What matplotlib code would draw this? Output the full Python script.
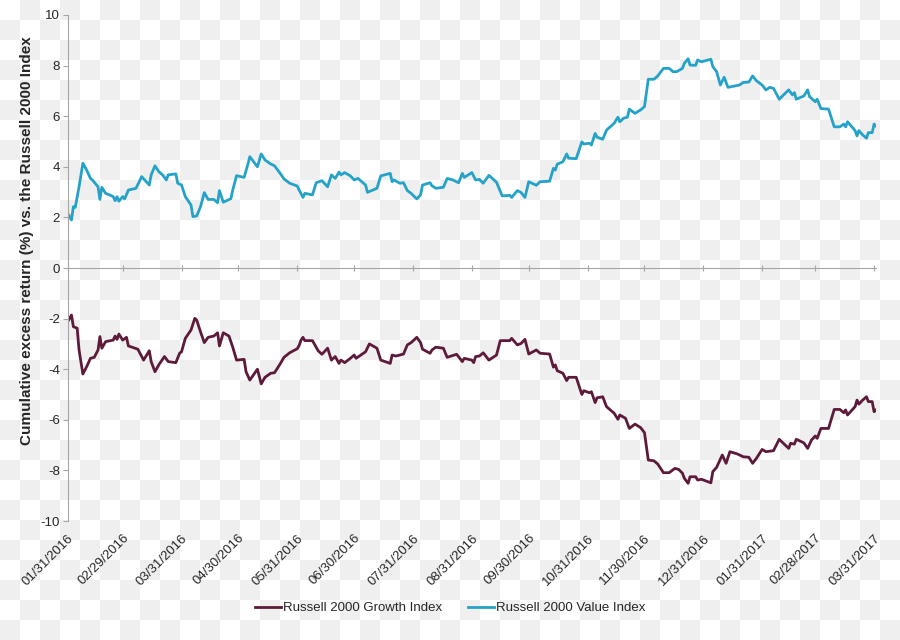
import numpy as np
import pandas as pd
import matplotlib
matplotlib.use("Agg")
import matplotlib.pyplot as plt
import matplotlib.dates as mdates

plt.rcParams['font.family'] = ['Liberation Sans', 'DejaVu Sans']
plt.rcParams['axes.unicode_minus'] = False

# jours depuis le 31/01/2016 et rendement excedentaire cumule (%)
start = "2016-01-31"

val_days = [0, 2, 3, 4, 6, 8, 10, 12, 13, 16,
            17, 18, 20, 22, 24, 25, 26, 27, 29, 30,
            32, 36, 39, 43, 44, 46, 48, 50, 52, 53,
            57, 58, 60, 62, 65, 66, 68, 70, 72, 74,
            77, 79, 80, 82, 86, 87, 89, 93, 95, 96,
            100, 102, 104, 107, 109, 112, 114, 117, 121, 122,
            124, 125, 129, 131, 134, 137, 139, 141, 143, 144,
            146, 149, 151, 153, 157, 158, 163, 165, 170, 171,
            172, 175, 177, 179, 181, 184, 186, 187, 191, 192,
            194, 198, 200, 203, 206, 208, 209, 213, 215, 217,
            219, 222, 226, 229, 233, 234, 237, 239, 241, 243,
            247, 249, 254, 256, 257, 258, 261, 263, 264, 268,
            271, 272, 275, 276, 278, 279, 282, 284, 288, 290,
            291, 293, 295, 296, 299, 302, 304, 306, 309, 311,
            314, 317, 319, 321, 324, 325, 327, 328, 331, 332,
            334, 339, 340, 342, 344, 346, 348, 354, 356, 359,
            361, 363, 366, 368, 370, 372, 375, 380, 382, 383,
            384, 388, 390, 391, 394, 395, 397, 401, 404, 407,
            409, 410, 411, 415, 416, 417, 419, 421, 422, 424,
            425, 426]
val_pct = [2.16, 1.90, 2.42, 2.40, 3.21, 4.14, 3.87, 3.54, 3.48, 3.21,
           2.71, 3.19, 2.95, 2.89, 2.82, 2.66, 2.82, 2.64, 2.82, 2.73,
           3.08, 3.15, 3.61, 3.28, 3.68, 4.04, 3.81, 3.68, 3.48, 3.68,
           3.72, 3.35, 3.28, 2.82, 2.49, 2.03, 2.06, 2.42, 2.98, 2.71,
           2.71, 2.58, 3.06, 2.60, 2.74, 3.08, 3.65, 3.58, 4.11, 4.40,
           4.00, 4.51, 4.27, 4.11, 4.04, 3.74, 3.52, 3.35, 3.24, 3.08,
           2.79, 2.95, 2.89, 3.37, 3.45, 3.21, 3.68, 3.54, 3.79, 3.68,
           3.77, 3.64, 3.48, 3.54, 3.28, 2.99, 3.15, 3.64, 3.74, 3.41,
           3.48, 3.35, 3.37, 3.06, 2.95, 2.73, 2.89, 3.28, 3.37, 3.25,
           3.15, 3.19, 3.54, 3.48, 3.37, 3.74, 3.58, 3.77, 3.48, 3.50,
           3.35, 3.66, 3.39, 2.85, 2.87, 2.79, 3.06, 2.98, 2.79, 3.41,
           3.27, 3.41, 3.43, 3.94, 3.87, 4.10, 4.20, 4.51, 4.34, 4.32,
           4.99, 4.90, 4.93, 4.86, 5.32, 5.17, 5.09, 5.45, 5.72, 5.96,
           5.78, 5.92, 5.96, 6.28, 6.11, 6.25, 6.38, 7.46, 7.46, 7.59,
           7.89, 7.89, 7.76, 7.76, 7.89, 8.09, 8.27, 8.02, 8.01, 8.22,
           8.15, 8.25, 7.96, 7.76, 7.23, 7.54, 7.14, 7.23, 7.33, 7.35,
           7.59, 7.40, 7.23, 7.04, 7.14, 7.10, 6.67, 7.04, 6.84, 6.93,
           6.67, 6.80, 7.04, 6.77, 6.57, 6.67, 6.30, 6.28, 5.58, 5.58,
           5.69, 5.58, 5.78, 5.43, 5.22, 5.43, 5.26, 5.13, 5.35, 5.35,
           5.69, 5.61]

gro_days = [0, 2, 3, 5, 6, 8, 10, 12, 14, 16,
            17, 18, 20, 24, 25, 26, 27, 29, 31, 32,
            37, 40, 43, 44, 46, 48, 51, 53, 57, 59,
            60, 62, 65, 67, 68, 70, 72, 74, 77, 79,
            80, 82, 85, 87, 89, 93, 94, 96, 100, 102,
            104, 107, 109, 112, 114, 117, 121, 122, 123, 124,
            125, 129, 132, 134, 137, 139, 141, 143, 144, 146,
            149, 151, 152, 157, 159, 163, 165, 170, 171, 173,
            177, 179, 181, 184, 186, 187, 191, 192, 194, 198,
            200, 205, 208, 209, 213, 214, 215, 217, 219, 222,
            226, 228, 233, 234, 237, 239, 241, 243, 247, 249,
            254, 256, 257, 258, 261, 263, 264, 268, 271, 272,
            275, 276, 278, 279, 282, 284, 288, 290, 291, 294,
            296, 299, 302, 304, 306, 309, 311, 314, 317, 320,
            322, 324, 325, 327, 328, 331, 332, 334, 339, 340,
            342, 345, 347, 349, 353, 356, 359, 361, 363, 366,
            368, 372, 375, 380, 381, 383, 384, 388, 390, 392,
            394, 395, 397, 401, 404, 407, 409, 410, 411, 415,
            416, 417, 419, 421, 422, 424, 425, 426]
gro_pct = [-2.12, -1.86, -2.32, -2.38, -3.24, -4.19, -3.90, -3.57, -3.53, -3.24,
           -2.71, -3.17, -2.91, -2.85, -2.69, -2.82, -2.61, -2.85, -2.74, -3.08,
           -3.21, -3.64, -3.27, -3.70, -4.10, -3.83, -3.50, -3.70, -3.74, -3.37,
           -3.31, -2.78, -2.45, -1.99, -2.06, -2.52, -2.95, -2.74, -2.69, -2.56,
           -3.08, -2.56, -2.69, -3.13, -3.64, -3.61, -4.10, -4.43, -4.00, -4.58,
           -4.32, -4.16, -4.14, -3.79, -3.53, -3.35, -3.19, -3.06, -2.85, -2.74,
           -2.87, -2.87, -3.27, -3.41, -3.17, -3.64, -3.50, -3.77, -3.64, -3.74,
           -3.57, -3.44, -3.57, -3.31, -3.00, -3.17, -3.64, -3.77, -3.44, -3.48,
           -3.40, -3.04, -2.95, -2.74, -2.95, -3.21, -3.37, -3.24, -3.13, -3.17,
           -3.53, -3.41, -3.70, -3.57, -3.64, -3.74, -3.50, -3.48, -3.35, -3.64,
           -3.44, -2.87, -2.87, -2.78, -3.04, -2.98, -2.82, -3.40, -3.24, -3.37,
           -3.40, -3.92, -3.83, -4.06, -4.16, -4.45, -4.32, -4.32, -5.00, -4.85,
           -4.93, -4.89, -5.32, -5.13, -5.09, -5.48, -5.74, -5.98, -5.81, -5.94,
           -6.34, -6.17, -6.31, -6.51, -7.59, -7.62, -7.75, -8.09, -8.09, -7.92,
           -7.96, -8.11, -8.31, -8.51, -8.25, -8.25, -8.38, -8.35, -8.49, -8.05,
           -7.88, -7.39, -7.72, -7.26, -7.35, -7.46, -7.48, -7.72, -7.52, -7.17,
           -7.26, -7.22, -6.77, -7.13, -6.93, -6.96, -6.77, -6.91, -7.13, -6.80,
           -6.64, -6.73, -6.34, -6.34, -5.59, -5.59, -5.72, -5.61, -5.81, -5.48,
           -5.22, -5.38, -5.22, -5.09, -5.28, -5.28, -5.68, -5.61]

noms = ["Russell 2000 Growth Index", "Russell 2000 Value Index"]
couleurs = ["#5e1a3a", "#25a2c8"]
gris = "#a6a6a6"
testo = "#262626"

t0 = pd.Timestamp(start)
val_x = mdates.date2num(t0 + pd.to_timedelta(val_days, unit="D"))
gro_x = mdates.date2num(t0 + pd.to_timedelta(gro_days, unit="D"))
fine_mese = pd.date_range(start, "2017-03-31", freq="ME")
tick_x = mdates.date2num(fine_mese)
tick_lab = [d.strftime("%m/%d/%Y") for d in fine_mese]

fig = plt.figure(figsize=(9, 6.4), dpi=100)

# sfondo a scacchi (trasparenza)
yy, xx = np.mgrid[0:640, 0:900]
scacchi = ((yy // 20 + xx // 20) % 2).astype(float)
sfondo = np.where(scacchi[..., None] > 0, 239 / 255, 1.0) * np.ones((1, 1, 3))
fig.figimage(sfondo, xo=0, yo=0, origin="upper", zorder=-10)

ax = fig.add_axes([0.0752, 0.1859, 0.8981, 0.7907])
ax.set_facecolor("none")
ax.set_zorder(2)

ax.plot(gro_x, gro_pct, color=couleurs[0], lw=2.0, label=noms[0])
ax.plot(val_x, val_pct, color=couleurs[1], lw=2.0, label=noms[1])

ax.set_xlim(mdates.date2num(t0), mdates.date2num(t0 + pd.Timedelta(days=426)))
ax.set_ylim(-10, 10)
ax.set_yticks(np.arange(-10, 11, 2))

for s in ["top", "right"]:
    ax.spines[s].set_visible(False)
ax.spines["left"].set_color(gris)
ax.spines["bottom"].set_color(gris)
ax.spines["left"].set_linewidth(0.8)
ax.spines["bottom"].set_linewidth(0.8)
ax.spines["bottom"].set_position(("data", 0))

ax.set_xticks(tick_x)
ax.tick_params(axis="x", direction="inout", length=5, width=0.8, color=gris,
               labelbottom=False)
ax.tick_params(axis="y", direction="out", length=3.5, width=0.8, color=gris,
               labelsize=9.5, labelcolor=testo, pad=2)

sec = ax.secondary_xaxis("bottom")
sec.set_xticks(tick_x, tick_lab)
sec.spines["bottom"].set_visible(False)
sec.tick_params(length=0, pad=8, labelsize=9.5, labelcolor=testo)
plt.setp(sec.get_xticklabels(), rotation=45, ha="right", va="top",
         rotation_mode="anchor")

ax.set_ylabel("Cumulative excess return (%) vs. the Russell 2000 Index",
              fontsize=11, fontweight="bold", color=testo)
ax.yaxis.set_label_coords(-0.042, 0.555)

leg = fig.legend(loc="center", bbox_to_anchor=(0.5, 0.05), ncol=2, frameon=False,
                 fontsize=9.5, handlelength=2.0, handletextpad=0.1,
                 columnspacing=2.0, labelcolor=testo)
leg.set_zorder(3)

fig.savefig("out.png", dpi=100)
